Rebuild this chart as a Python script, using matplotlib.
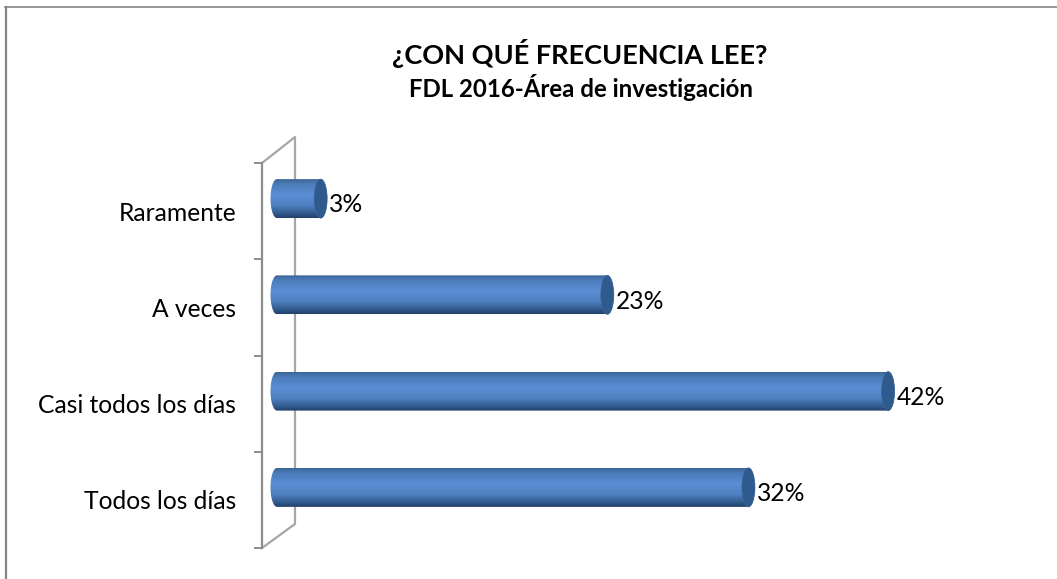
import numpy as np
import matplotlib
matplotlib.use('Agg')
import matplotlib.pyplot as plt
from matplotlib.colors import LinearSegmentedColormap
from matplotlib.lines import Line2D
from matplotlib.patches import Ellipse, Polygon

plt.rcParams['font.family'] = ['Lato', 'DejaVu Sans']

# -------- data --------
categories = ['Todos los días', 'Casi todos los días', 'A veces', 'Raramente']
values = [32.4, 42.0, 22.7, 3.0]

W, H = 1057, 579
# plot box in pixels (front plane of the 3d axis)
LEFT, RIGHT, TOP, BOTTOM = 262, 1040, 163, 548
PX_PER_UNIT = 14.55
X_SHIFT = 15 / PX_PER_UNIT   # bars sit behind the front plane
Y_SHIFT = 0.13
BACK_X = 33 / PX_PER_UNIT
BACK_TOP = 0.27
BACK_BOT = 0.25
BAR_H = 39 / 96.25
CAP_W = 13 / PX_PER_UNIT
FONT_SIZE = 17.7

fig = plt.figure(figsize=(W / 100, H / 100), dpi=100, facecolor='white')
ax = fig.add_axes([LEFT / W, 1 - BOTTOM / H, (RIGHT - LEFT) / W, (BOTTOM - TOP) / H])
ax.patch.set_alpha(0)
xlim = (0, (RIGHT - LEFT) / PX_PER_UNIT)
ylim = (-0.5, len(categories) - 0.5)

# outer frame: only top and left edges show up
fig.add_artist(Line2D([6 / W, 6 / W], [0, 1 - 6.5 / H], color='#868686', lw=1.6))
fig.add_artist(Line2D([5 / W, 1], [1 - 6.5 / H, 1 - 6.5 / H], color='#868686', lw=1.2))

for s in ['top', 'right', 'bottom']:
    ax.spines[s].set_visible(False)
ax.spines['left'].set_color('#8c8c8c')
ax.spines['left'].set_linewidth(1.6)
ax.set_xticks([])
ax.set_yticks(range(len(categories)), labels=categories, fontsize=FONT_SIZE)
ax.tick_params(axis='y', which='major', length=0, pad=18.7)
ax.set_yticks(np.arange(len(categories) + 1) - 0.5, minor=True)
ax.tick_params(axis='y', which='minor', length=5.8, width=1.4, color='#8c8c8c')

# back wall
wall_x = [0, BACK_X, BACK_X, 0]
wall_y = [ylim[1], ylim[1] + BACK_TOP, ylim[0] + BACK_BOT, ylim[0]]
ax.plot(wall_x, wall_y, color='#a6a6a6', lw=1.6, clip_on=False, zorder=1)

# cylinders
body_cmap = LinearSegmentedColormap.from_list(
    'body', [(0, '#3d6597'), (0.12, '#4a7ab8'), (0.4, '#5b8fd5'), (0.68, '#4f7fc0'), (0.9, '#2f5788'), (1, '#223f66')])
grad = np.linspace(0, 1, 128).reshape(-1, 1)
t = np.linspace(-np.pi / 2, np.pi / 2, 40)

for i, v in enumerate(values):
    y = i + Y_SHIFT
    x0 = X_SHIFT
    x1 = X_SHIFT + v
    outline = np.vstack([
        np.column_stack([x0 - CAP_W / 2 * np.cos(t), y + BAR_H / 2 * np.sin(t)]),
        np.column_stack([x1 + CAP_W / 2 * np.cos(t[::-1]), y + BAR_H / 2 * np.sin(t[::-1])]),
    ])
    im = ax.imshow(grad, cmap=body_cmap, aspect='auto', zorder=2, origin='upper',
                   extent=(x0 - CAP_W, x1 + CAP_W, y - BAR_H / 2, y + BAR_H / 2))
    clip = Polygon(outline, closed=True, transform=ax.transData, fc='none', ec='none')
    ax.add_patch(clip)
    im.set_clip_path(clip)
    ax.add_patch(Ellipse((x1, y), CAP_W, BAR_H, fc='#2e5a8e', ec='#3d6597', lw=0.5, zorder=3))
    ax.text(x1 + CAP_W / 2 + 0.15, y - 0.065, f'{v:.0f}%', fontsize=FONT_SIZE, va='center', ha='left',
            color='black', zorder=4)

ax.set_xlim(xlim)
ax.set_ylim(ylim)

# titles
fig.text(580 / W, 1 - 53 / H, '¿CON QUÉ FRECUENCIA LEE?', fontsize=19.5, fontweight='bold',
         ha='center', va='center')
fig.text(581 / W, 1 - 88 / H, 'FDL 2016-Área de investigación', fontsize=17.3, fontweight='bold',
         ha='center', va='center')

fig.savefig('out.png', dpi=100)
